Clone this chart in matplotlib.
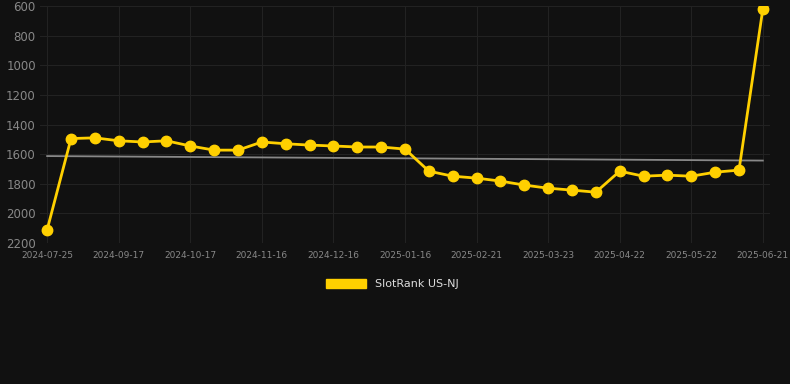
import matplotlib
matplotlib.use("Agg")
import matplotlib.pyplot as plt
from matplotlib.patches import Patch
import numpy as np

# rank values per sample (lower is better, axis inverted)
ranks = [2110, 1495, 1490, 1510, 1518, 1510, 1545, 1573, 1573, 1518,
         1530, 1539, 1545, 1552, 1552, 1566, 1715, 1749, 1762, 1782,
         1809, 1830, 1843, 1857, 1715, 1749, 1742, 1749, 1722, 1708, 620]
tick_labels = ["2024-07-25", "2024-09-17", "2024-10-17", "2024-11-16",
               "2024-12-16", "2025-01-16", "2025-02-21", "2025-03-23",
               "2025-04-22", "2025-05-22", "2025-06-21"]
series_name = "SlotRank US-NJ"

bg = "#111111"
yellow = "#FFD000"

x = np.arange(len(ranks))
slope, intercept = np.polyfit(x, ranks, 1)

fig = plt.figure(figsize=(7.9, 3.84), dpi=100, facecolor=bg)
ax = fig.add_axes([40 / 790, 1 - 243 / 384, 730 / 790, 237 / 384])
ax.set_facecolor(bg)

ax.plot(x, slope * x + intercept, color="#888888", linewidth=1.3, zorder=2)
ax.plot(x, ranks, color=yellow, linewidth=2, marker="o", markersize=7.5,
        zorder=3)

ax.set_xlim(-0.3, len(ranks) - 1 + 0.3)
ax.set_ylim(2200, 600)
ax.set_yticks(range(600, 2201, 200))
ax.set_xticks(x[::3])
ax.set_xticklabels(tick_labels)

ax.grid(True, color="#222222", linewidth=0.8)
ax.set_axisbelow(True)
for s in ax.spines.values():
    s.set_visible(False)
ax.tick_params(axis="y", colors="#888888", labelsize=8.5, length=0, pad=3)
ax.tick_params(axis="x", colors="#888888", labelsize=6.5, length=0, pad=6)

handle = Patch(facecolor=yellow, edgecolor=yellow)
fig.legend([handle], [series_name], loc="center", bbox_to_anchor=(0.497, 0.26),
           frameon=False, labelcolor="#dddddd", fontsize=8,
           handlelength=3.6, handleheight=0.9)

fig.savefig("out.png", dpi=100, facecolor=bg)
